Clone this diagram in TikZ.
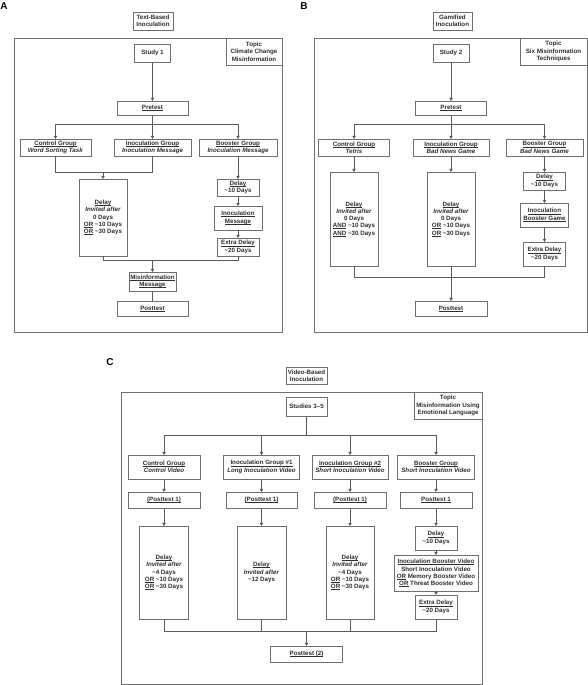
\documentclass[tikz,border=0pt]{standalone}
\usepackage{fontspec}
\setmainfont{Liberation Sans}
\usetikzlibrary{arrows.meta,positioning}
\newcommand\aprx{\textasciitilde}
\newsavebox\ulbox
\newcommand\ul[1]{\sbox\ulbox{#1}\rlap{\rule[-1.2pt]{\wd\ulbox}{0.65pt}}\usebox\ulbox}
\definecolor{lngray}{HTML}{5A5A5A}
\definecolor{bxgray}{HTML}{6E6E6E}
\definecolor{txgray}{HTML}{2E2E2E}

\begin{document}
\begin{tikzpicture}[x=1pt, y=-1pt,
  every node/.style={font=\bfseries\fontsize{6.2}{7.3}\selectfont, text=txgray},
  bx/.style={draw=bxgray, line width=0.6pt, fill=white, rectangle, align=center,
             inner sep=0pt, outer sep=0pt},
  wh/.style 2 args={minimum width=#1, minimum height=#2},
  frm/.style={draw=bxgray, line width=0.9pt},
  pl/.style={font=\bfseries\fontsize{10}{12}\selectfont, text=black},
  ln/.style={draw=lngray, line width=0.6pt},
  ar/.style={ln, -{Triangle[length=3.2pt, width=3.4pt]}}]

\useasboundingbox (0,0) rectangle (588,685);

%% --- Panel A: text-based ---
\node[pl] (ALAB) at (4,6) {A};
\node[bx, wh={40}{18}] (ATITLE) at (153,21) {Text-Based\\Inoculation};
\draw[frm] (14,38) rectangle (282,332);
\node[bx, wh={56}{27}, anchor=north east] (ATOPIC) at (282,38) {Topic\\Climate Change\\Misinformation};
\node[bx, wh={36}{18}] (ASTUDY) at (152.5,53)  {Study 1};
\node[bx, wh={71}{14}] (APRE)   at (152.5,108) {\ul{Pretest}};
\node[bx, wh={71}{17}] (ACTRL)  at (55.5,147.5) {\ul{Control Group}\\\textit{Word Sorting Task}};
\node[bx, wh={77}{17}] (AINOC)  at (152.5,147.5) {\ul{Inoculation Group}\\\textit{Inoculation Message}};
\node[bx, wh={78}{17}] (ABOOST) at (238,147.5) {\ul{Booster Group}\\\textit{Inoculation Message}};
\node[bx, wh={48}{77}] (ADELAY) at (103,217.5) {\ul{Delay}\\\textit{Invited after}\\0 Days\\\ul{OR} \aprx10 Days\\\ul{OR} \aprx30 Days};
\node[bx, wh={42}{17}] (ABDEL)  at (238,187.5) {\ul{Delay}\\\aprx10 Days};
\node[bx, wh={48}{24}] (ABMSG)  at (238,218)   {\ul{Inoculation}\\\ul{Message}};
\node[bx, wh={42}{18}] (AEXTRA) at (238,247)   {\ul{Extra Delay}\\\aprx20 Days};
\node[bx, wh={47}{19}] (AMIS)   at (152.5,281.5) {\ul{Misinformation}\\\ul{Message}};
\node[bx, wh={71}{15}] (APOST)  at (152.5,308.5) {\ul{Posttest}};
\coordinate (ASPLIT) at (152.5,124);
\coordinate (AJOIN)  at (103,172);
\coordinate (AMERGE) at (152.5,260);

\draw[ar] (ASTUDY) -- (APRE);
\draw[ar] (APRE) -- (AINOC);
\draw[ar] (ASPLIT) -| (ACTRL);
\draw[ar] (ASPLIT) -| (ABOOST);
\draw[ln] (ACTRL) |- (AJOIN);
\draw[ln] (AINOC) |- (AJOIN);
\draw[ar] (AJOIN) -- (ADELAY);
\draw[ar] (ABOOST) -- (ABDEL);
\draw[ar] (ABDEL) -- (ABMSG);
\draw[ar] (ABMSG) -- (AEXTRA);
\draw[ln] (ADELAY) |- (AMERGE);
\draw[ln] (AEXTRA) |- (AMERGE);
\draw[ar] (AMERGE) -- (AMIS);
\draw[ln] (AMIS) -- (APOST);

%% --- Panel B: gamified ---
\node[pl] (BLAB) at (304,6) {B};
\node[bx, wh={39}{18}] (BTITLE) at (452.5,21) {Gamified\\Inoculation};
\draw[frm] (314,38) rectangle (587,332);
\node[bx, wh={67}{27}, anchor=north east] (BTOPIC) at (587,38) {Topic\\Six Misinformation\\Techniques};
\node[bx, wh={36}{18}] (BSTUDY) at (451,53)  {Study 2};
\node[bx, wh={71}{14}] (BPRE)   at (451,108) {\ul{Pretest}};
\node[bx, wh={71}{17}] (BCTRL)  at (354,147.5) {\ul{Control Group}\\\textit{Tetris}};
\node[bx, wh={76}{17}] (BINOC)  at (451,147.5) {\ul{Inoculation Group}\\\textit{Bad News Game}};
\node[bx, wh={77}{17}] (BBOOST) at (544.5,147.5) {\ul{Booster Group}\\\textit{Bad News Game}};
\node[bx, wh={48}{94}] (BCDEL)  at (354,219) {\ul{Delay}\\\textit{Invited after}\\0 Days\\\ul{AND} \aprx10 Days\\\ul{AND} \aprx30 Days};
\node[bx, wh={48}{94}] (BIDEL)  at (451,219) {\ul{Delay}\\\textit{Invited after}\\0 Days\\\ul{OR} \aprx10 Days\\\ul{OR} \aprx30 Days};
\node[bx, wh={42}{18}] (BBDEL)  at (544.5,181) {\ul{Delay}\\\aprx10 Days};
\node[bx, wh={48}{24}] (BBGAME) at (544.5,215) {\ul{Inoculation}\\\ul{Booster Game}};
\node[bx, wh={42}{24}] (BEXTRA) at (544.5,254) {\ul{Extra Delay}\\\aprx20 Days};
\node[bx, wh={72}{15}] (BPOST)  at (451,308.5) {\ul{Posttest}};
\coordinate (BSPLIT) at (451,124);
\coordinate (BMERGE) at (451,277);

\draw[ar] (BSTUDY) -- (BPRE);
\draw[ar] (BPRE) -- (BINOC);
\draw[ar] (BSPLIT) -| (BCTRL);
\draw[ar] (BSPLIT) -| (BBOOST);
\draw[ar] (BCTRL) -- (BCDEL);
\draw[ar] (BINOC) -- (BIDEL);
\draw[ar] (BBOOST) -- (BBDEL);
\draw[ar] (BBDEL) -- (BBGAME);
\draw[ar] (BBGAME) -- (BEXTRA);
\draw[ln] (BCDEL) |- (BMERGE);
\draw[ln] (BEXTRA) |- (BMERGE);
\draw[ar] (BIDEL) -- (BPOST);

%% --- Panel C: video-based ---
\node[pl] (CLAB) at (110,362) {C};
\node[bx, wh={41}{17}] (CTITLE) at (306.5,375.5) {Video-Based\\Inoculation};
\draw[frm] (121,392) rectangle (482,684);
\node[bx, wh={68}{27}, anchor=north east] (CTOPIC) at (482,392) {Topic\\Misinformation Using\\Emotional Language};
\node[bx, wh={41}{19}] (CSTUDY) at (306.5,406.5) {Studies 3--5};
\node[bx, wh={72}{24}] (CCTRL)  at (164,467) {\ul{Control Group}\\\textit{Control Video}};
\node[bx, wh={76}{24}] (CINOC1) at (261.5,467) {\ul{Inoculation Group \#1}\\\textit{Long Inoculation Video}};
\node[bx, wh={76}{24}] (CINOC2) at (350,467) {\ul{Inoculation Group \#2}\\\textit{Short Inoculation Video}};
\node[bx, wh={77}{24}] (CBOOST) at (436,467) {\ul{Booster Group}\\\textit{Short Inoculation Video}};
\node[bx, wh={72}{16}] (CCPOST)  at (164,500)   {\ul{(Posttest 1)}};
\node[bx, wh={71}{16}] (CI1POST) at (261.5,500) {\ul{(Posttest 1)}};
\node[bx, wh={72}{16}] (CI2POST) at (350,500)   {\ul{(Posttest 1)}};
\node[bx, wh={72}{16}] (CBPOST)  at (436,500)   {\ul{Posttest 1}};
\node[bx, wh={49}{93}] (CCDEL)  at (164,572.5) {\ul{Delay}\\\textit{Invited after}\\\aprx4 Days\\\ul{OR} \aprx10 Days\\\ul{OR} \aprx30 Days};
\node[bx, wh={49}{93}] (CI1DEL) at (261.5,572.5) {\ul{Delay}\\\textit{Invited after}\\\aprx12 Days};
\node[bx, wh={48}{93}] (CI2DEL) at (350,572.5) {\ul{Delay}\\\textit{Invited after}\\\aprx4 Days\\\ul{OR} \aprx10 Days\\\ul{OR} \aprx30 Days};
\node[bx, wh={42}{24}] (CBDEL)  at (436,538) {\ul{Delay}\\\aprx10 Days};
\node[bx, wh={84}{36}] (CBVID)  at (436,573) {\ul{Inoculation Booster Video}\\Short Inoculation Video\\\ul{OR} Memory Booster Video\\\ul{OR} Threat Booster Video};
\node[bx, wh={42}{24}] (CBEXTRA) at (436,607) {\ul{Extra Delay}\\\aprx20 Days};
\node[bx, wh={72}{16}] (CPOST)  at (306.5,654) {\ul{Posttest (2)}};
\coordinate (CSPLIT) at (306.5,435);
\coordinate (CMERGE) at (306.5,631);

\draw[ln] (CSTUDY) -- (CSPLIT);
\draw[ar] (CSPLIT) -| (CCTRL);
\draw[ar] (CSPLIT) -| (CINOC1);
\draw[ar] (CSPLIT) -| (CINOC2);
\draw[ar] (CSPLIT) -| (CBOOST);
\foreach \g/\p/\d in {CCTRL/CCPOST/CCDEL, CINOC1/CI1POST/CI1DEL, CINOC2/CI2POST/CI2DEL}
  {\draw[ar] (\g) -- (\p);
   \draw[ar] (\p) -- (\d);
   \draw[ln] (\d) |- (CMERGE);}
\draw[ar] (CBOOST) -- (CBPOST);
\draw[ar] (CBPOST) -- (CBDEL);
\draw[ar] (CBDEL) -- (CBVID);
\draw[ar] (CBVID) -- (CBEXTRA);
\draw[ln] (CBEXTRA) |- (CMERGE);
\draw[ar] (CMERGE) -- (CPOST);
\end{tikzpicture}
\end{document}
